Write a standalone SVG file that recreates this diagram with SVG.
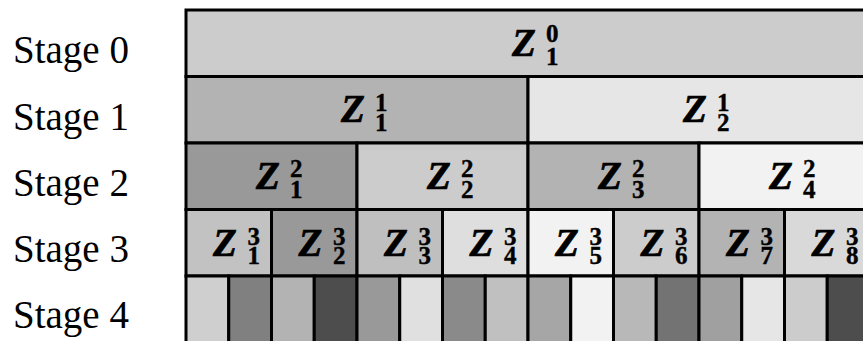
<svg xmlns="http://www.w3.org/2000/svg" width="863" height="341" viewBox="0 0 863 341">
<style>
.c{stroke:#000;stroke-width:3}
.lab{font-family:"Liberation Serif","Times New Roman",serif;font-size:39px;fill:#000}
.z{font-family:"Liberation Serif","Times New Roman",serif;font-size:39px;font-weight:bold;font-style:italic;fill:#000;stroke:#000;stroke-width:0.7}
.d{font-size:25px;font-style:normal;font-weight:bold;stroke-width:0.4}
</style>
<rect width="863" height="341" fill="#fff"/>
<g id="labels">
<text class="lab" x="13" y="63">Stage 0</text>
<text class="lab" x="13" y="130">Stage 1</text>
<text class="lab" x="13" y="196">Stage 2</text>
<text class="lab" x="13" y="262">Stage 3</text>
<text class="lab" x="13" y="328">Stage 4</text>
</g>
<g id="s0-1"><rect class="c" x="186" y="10" width="684" height="66.5" fill="#cccccc"/><text class="z" x="512" y="55.5">Z<tspan class="d" x="546" y="42">0</tspan><tspan class="d" x="546" y="64.5">1</tspan></text></g>
<g id="s1-1"><rect class="c" x="186" y="76.5" width="342" height="66.5" fill="#b3b3b3"/><text class="z" x="341" y="122">Z<tspan class="d" x="375" y="110.5">1</tspan><tspan class="d" x="375" y="131">1</tspan></text></g>
<g id="s1-2"><rect class="c" x="528" y="76.5" width="342" height="66.5" fill="#e6e6e6"/><text class="z" x="683" y="122">Z<tspan class="d" x="717" y="110.5">1</tspan><tspan class="d" x="717" y="131">2</tspan></text></g>
<g id="s2-1"><rect class="c" x="186" y="143" width="171" height="66.5" fill="#999999"/><text class="z" x="256" y="188.5">Z<tspan class="d" x="290" y="177">2</tspan><tspan class="d" x="290" y="197.5">1</tspan></text></g>
<g id="s2-2"><rect class="c" x="357" y="143" width="171" height="66.5" fill="#cccccc"/><text class="z" x="427" y="188.5">Z<tspan class="d" x="461" y="177">2</tspan><tspan class="d" x="461" y="197.5">2</tspan></text></g>
<g id="s2-3"><rect class="c" x="528" y="143" width="171" height="66.5" fill="#b3b3b3"/><text class="z" x="598" y="188.5">Z<tspan class="d" x="632" y="177">2</tspan><tspan class="d" x="632" y="197.5">3</tspan></text></g>
<g id="s2-4"><rect class="c" x="699" y="143" width="171" height="66.5" fill="#f2f2f2"/><text class="z" x="769" y="188.5">Z<tspan class="d" x="803" y="177">2</tspan><tspan class="d" x="803" y="197.5">4</tspan></text></g>
<g id="s3-1"><rect class="c" x="186" y="209.5" width="85.5" height="66.5" fill="#c2c2c2"/><text class="z" x="213" y="255.5">Z<tspan class="d" x="247.5" y="245">3</tspan><tspan class="d" x="247.5" y="264">1</tspan></text></g>
<g id="s3-2"><rect class="c" x="271.5" y="209.5" width="85.5" height="66.5" fill="#999999"/><text class="z" x="298.5" y="255.5">Z<tspan class="d" x="333" y="245">3</tspan><tspan class="d" x="333" y="264">2</tspan></text></g>
<g id="s3-3"><rect class="c" x="357" y="209.5" width="85.5" height="66.5" fill="#bfbfbf"/><text class="z" x="384" y="255.5">Z<tspan class="d" x="418.5" y="245">3</tspan><tspan class="d" x="418.5" y="264">3</tspan></text></g>
<g id="s3-4"><rect class="c" x="442.5" y="209.5" width="85.5" height="66.5" fill="#dedede"/><text class="z" x="469.5" y="255.5">Z<tspan class="d" x="504" y="245">3</tspan><tspan class="d" x="504" y="264">4</tspan></text></g>
<g id="s3-5"><rect class="c" x="528" y="209.5" width="85.5" height="66.5" fill="#f2f2f2"/><text class="z" x="555" y="255.5">Z<tspan class="d" x="589.5" y="245">3</tspan><tspan class="d" x="589.5" y="264">5</tspan></text></g>
<g id="s3-6"><rect class="c" x="613.5" y="209.5" width="85.5" height="66.5" fill="#cccccc"/><text class="z" x="640.5" y="255.5">Z<tspan class="d" x="675" y="245">3</tspan><tspan class="d" x="675" y="264">6</tspan></text></g>
<g id="s3-7"><rect class="c" x="699" y="209.5" width="85.5" height="66.5" fill="#b3b3b3"/><text class="z" x="726" y="255.5">Z<tspan class="d" x="760.5" y="245">3</tspan><tspan class="d" x="760.5" y="264">7</tspan></text></g>
<g id="s3-8"><rect class="c" x="784.5" y="209.5" width="85.5" height="66.5" fill="#d9d9d9"/><text class="z" x="811.5" y="255.5">Z<tspan class="d" x="846" y="245">3</tspan><tspan class="d" x="846" y="264">8</tspan></text></g>
<g id="s4-1"><rect class="c" x="186" y="276" width="42.75" height="70" fill="#cfcfcf"/></g>
<g id="s4-2"><rect class="c" x="228.75" y="276" width="42.75" height="70" fill="#808080"/></g>
<g id="s4-3"><rect class="c" x="271.5" y="276" width="42.75" height="70" fill="#b3b3b3"/></g>
<g id="s4-4"><rect class="c" x="314.25" y="276" width="42.75" height="70" fill="#4d4d4d"/></g>
<g id="s4-5"><rect class="c" x="357" y="276" width="42.75" height="70" fill="#999999"/></g>
<g id="s4-6"><rect class="c" x="399.75" y="276" width="42.75" height="70" fill="#e0e0e0"/></g>
<g id="s4-7"><rect class="c" x="442.5" y="276" width="42.75" height="70" fill="#8a8a8a"/></g>
<g id="s4-8"><rect class="c" x="485.25" y="276" width="42.75" height="70" fill="#c0c0c0"/></g>
<g id="s4-9"><rect class="c" x="528" y="276" width="42.75" height="70" fill="#a6a6a6"/></g>
<g id="s4-10"><rect class="c" x="570.75" y="276" width="42.75" height="70" fill="#f2f2f2"/></g>
<g id="s4-11"><rect class="c" x="613.5" y="276" width="42.75" height="70" fill="#b8b8b8"/></g>
<g id="s4-12"><rect class="c" x="656.25" y="276" width="42.75" height="70" fill="#737373"/></g>
<g id="s4-13"><rect class="c" x="699" y="276" width="42.75" height="70" fill="#a0a0a0"/></g>
<g id="s4-14"><rect class="c" x="741.75" y="276" width="42.75" height="70" fill="#e6e6e6"/></g>
<g id="s4-15"><rect class="c" x="784.5" y="276" width="42.75" height="70" fill="#cccccc"/></g>
<g id="s4-16"><rect class="c" x="827.25" y="276" width="42.75" height="70" fill="#4d4d4d"/></g>
<g id="connectors"/>
</svg>
